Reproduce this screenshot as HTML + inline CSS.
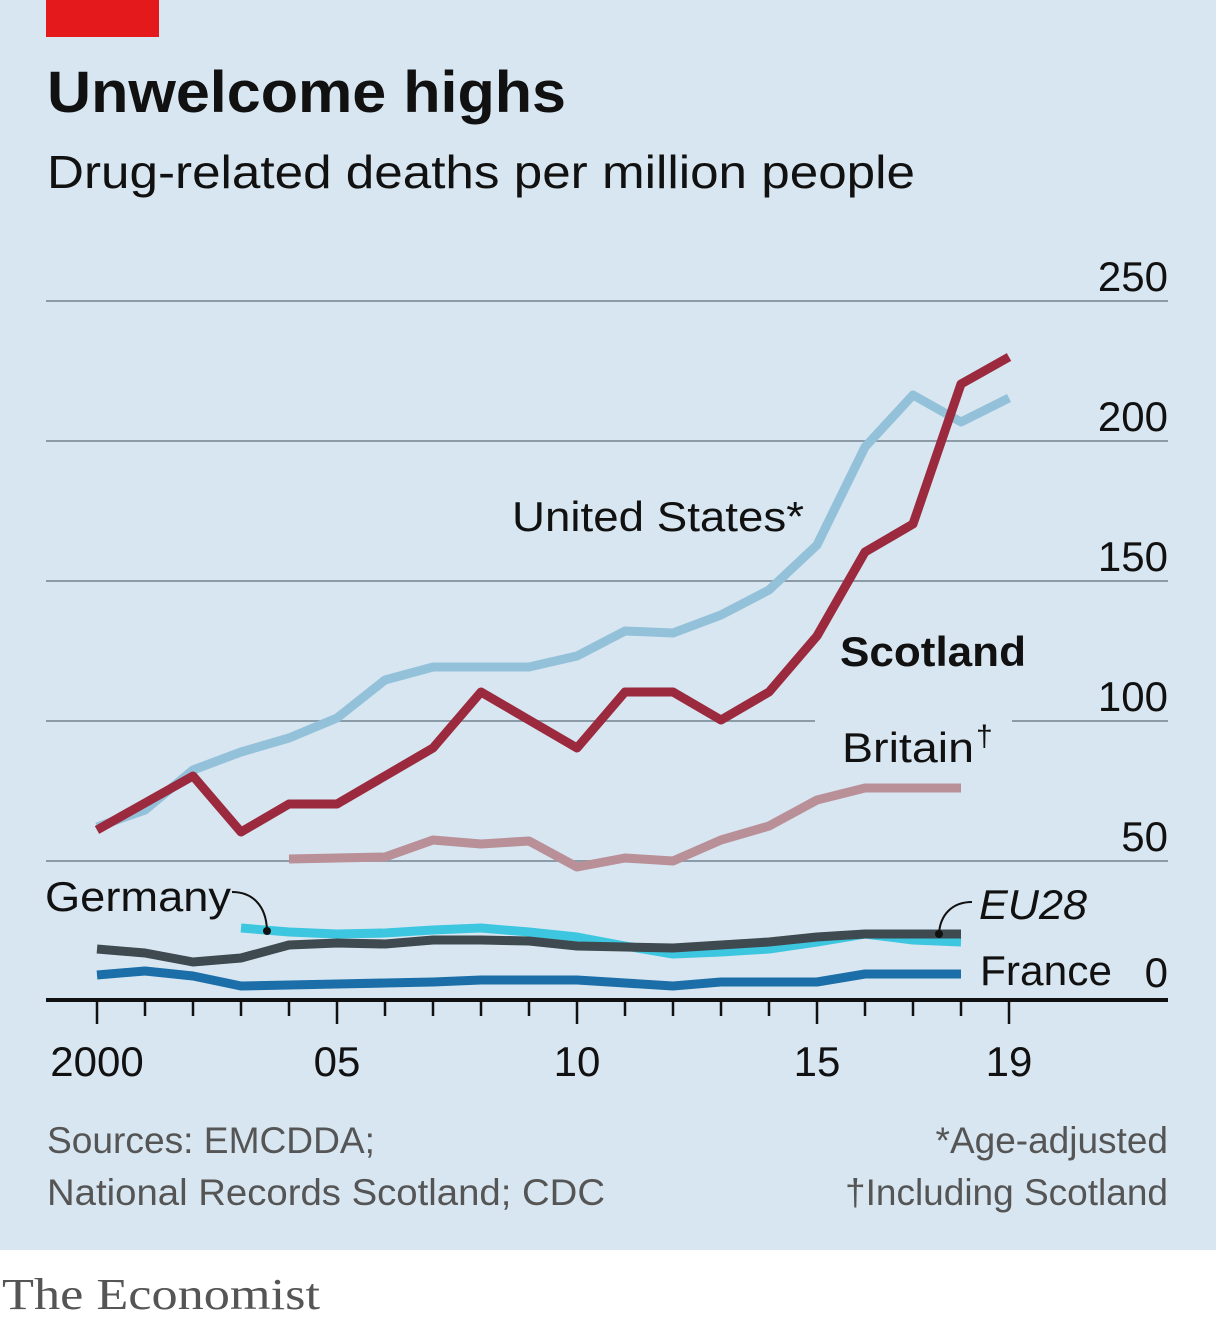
<!DOCTYPE html>
<html><head><style>
html,body{margin:0;padding:0;background:#fff}
svg{display:block}
text{font-family:"Liberation Sans",sans-serif}
</style></head><body>
<svg width="1216" height="1324" viewBox="0 0 1216 1324" xmlns="http://www.w3.org/2000/svg">
<rect x="0" y="0" width="1216" height="1250" fill="#d7e6f0"/>
<rect x="0" y="1250" width="1216" height="74" fill="#ffffff"/>
<rect x="46" y="0" width="113" height="37" fill="#e3191b"/>
<text x="47" y="112" font-size="58" font-weight="bold" fill="#111" textLength="519" lengthAdjust="spacingAndGlyphs">Unwelcome highs</text>
<text x="47" y="188" font-size="46" fill="#111" textLength="868" lengthAdjust="spacingAndGlyphs">Drug-related deaths per million people</text>
<g stroke="#8b9ba7" stroke-width="2">
<line x1="46" y1="301" x2="1168" y2="301"/>
<line x1="46" y1="441" x2="1168" y2="441"/>
<line x1="46" y1="581" x2="1168" y2="581"/>
<line x1="46" y1="721" x2="815" y2="721"/>
<line x1="1012" y1="721" x2="1168" y2="721"/>
<line x1="46" y1="861" x2="1168" y2="861"/>
</g>
<g font-size="42" fill="#111" text-anchor="end">
<text x="1168" y="291">250</text>
<text x="1168" y="431">200</text>
<text x="1168" y="571">150</text>
<text x="1168" y="711">100</text>
<text x="1168" y="851">50</text>
<text x="1168" y="987">0</text>
</g>
<g fill="none" stroke-width="9" stroke-linejoin="round" stroke-linecap="butt">
<polyline stroke="#94c1da" points="97,827 145,810 193,770 241,752 289,738 337,718 385,680 433,667 481,667 529,667 577,656 625,631 673,633 721,615 769,590 817,545 865,447 913,395 961,422 1009,398"/>
<polyline stroke="#b98f98" points="289,859 337,858 385,857 433,840 481,844 529,841 577,867 625,858 673,861 721,840 769,826 817,800 865,788 913,788 961,788"/>
<polyline stroke="#9b2a3e" points="97,830 145,803 193,776 241,832 289,804 337,804 385,776 433,748 481,692 529,720 577,748 625,692 673,692 721,720 769,692 817,636 865,552 913,524 961,384 1009,357"/>
<polyline stroke="#3cc6e0" points="241,928 289,932 337,934 385,933 433,930 481,928 529,932 577,937 625,946 673,954 721,952 769,949 817,942 865,934 913,940 961,942"/>
<polyline stroke="#3e4a4f" points="97,949 145,953 193,962 241,958 289,945 337,943 385,944 433,940 481,940 529,941 577,946 625,947 673,948 721,945 769,942 817,937 865,934 913,934 961,934"/>
<polyline stroke="#1b6ea8" points="97,975 145,971 193,976 241,986 289,985 337,984 385,983 433,982 481,980 529,980 577,980 625,983 673,986 721,982 769,982 817,982 865,974 913,974 961,974"/>
</g>
<line x1="46" y1="1000" x2="1168" y2="1000" stroke="#111" stroke-width="4"/>
<g stroke="#111" stroke-width="2.5">
<line x1="97" y1="1000" x2="97" y2="1024"/><line x1="145" y1="1000" x2="145" y2="1016"/><line x1="193" y1="1000" x2="193" y2="1016"/><line x1="241" y1="1000" x2="241" y2="1016"/><line x1="289" y1="1000" x2="289" y2="1016"/>
<line x1="337" y1="1000" x2="337" y2="1024"/><line x1="385" y1="1000" x2="385" y2="1016"/><line x1="433" y1="1000" x2="433" y2="1016"/><line x1="481" y1="1000" x2="481" y2="1016"/><line x1="529" y1="1000" x2="529" y2="1016"/>
<line x1="577" y1="1000" x2="577" y2="1024"/><line x1="625" y1="1000" x2="625" y2="1016"/><line x1="673" y1="1000" x2="673" y2="1016"/><line x1="721" y1="1000" x2="721" y2="1016"/><line x1="769" y1="1000" x2="769" y2="1016"/>
<line x1="817" y1="1000" x2="817" y2="1024"/><line x1="865" y1="1000" x2="865" y2="1016"/><line x1="913" y1="1000" x2="913" y2="1016"/><line x1="961" y1="1000" x2="961" y2="1016"/><line x1="1009" y1="1000" x2="1009" y2="1024"/>
</g>
<g font-size="42" fill="#111" text-anchor="middle">
<text x="97" y="1076">2000</text><text x="337" y="1076">05</text><text x="577" y="1076">10</text><text x="817" y="1076">15</text><text x="1009" y="1076">19</text>
</g>
<g font-size="42" fill="#111">
<text x="512" y="531" textLength="292" lengthAdjust="spacingAndGlyphs">United States*</text>
<text x="840" y="666" font-weight="bold" textLength="186" lengthAdjust="spacingAndGlyphs">Scotland</text>
<text x="842" y="762" textLength="132" lengthAdjust="spacingAndGlyphs">Britain</text>
<text x="976" y="746" font-size="30">†</text>
<text x="45" y="911" textLength="186" lengthAdjust="spacingAndGlyphs">Germany</text>
<text x="979" y="919" font-style="italic" textLength="108" lengthAdjust="spacingAndGlyphs">EU28</text>
<text x="980" y="985" textLength="132" lengthAdjust="spacingAndGlyphs">France</text>
</g>
<path d="M232,892 C252,892 266,905 267,930" fill="none" stroke="#111" stroke-width="2"/>
<circle cx="267" cy="931" r="4" fill="#111"/>
<path d="M972,902 C952,902 940,915 939,934" fill="none" stroke="#111" stroke-width="2"/>
<circle cx="939" cy="934" r="4" fill="#111"/>
<g font-size="37" fill="#555">
<text x="47" y="1153" textLength="328" lengthAdjust="spacingAndGlyphs">Sources: EMCDDA;</text>
<text x="47" y="1205" textLength="558" lengthAdjust="spacingAndGlyphs">National Records Scotland; CDC</text>
<text x="1168" y="1153" text-anchor="end">*Age-adjusted</text>
<text x="1168" y="1205" text-anchor="end">†Including Scotland</text>
</g>
<text x="2" y="1309" style="font-family:'Liberation Serif',serif" font-size="44" fill="#555" textLength="318" lengthAdjust="spacingAndGlyphs">The Economist</text>
</svg>
</body></html>
